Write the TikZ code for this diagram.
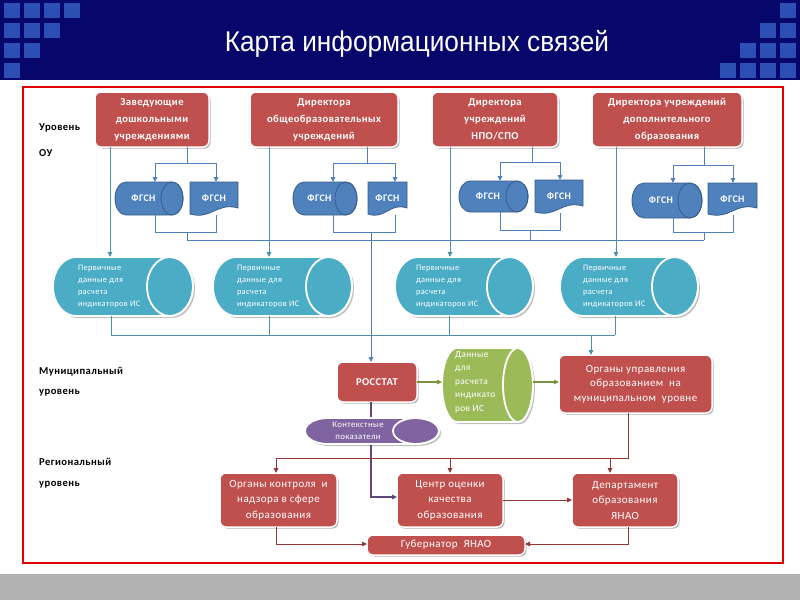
\documentclass[tikz,border=0pt]{standalone}
\usepackage{fontspec}
\setmainfont{Carlito}
\newfontfamily\cf[LetterSpace=4]{Carlito}
\newfontfamily\titlefont{Liberation Sans}
\usetikzlibrary{arrows.meta,shadows}
\definecolor{navy}{HTML}{07066B}
\definecolor{sqblue}{HTML}{2C4FB3}
\definecolor{boxred}{HTML}{C0504D}
\definecolor{fgblue}{HTML}{4F81BD}
\definecolor{fgdark}{HTML}{385D8A}
\definecolor{teal}{HTML}{4BACC6}
\definecolor{grn}{HTML}{9BBB59}
\definecolor{grnline}{HTML}{77933C}
\definecolor{purp}{HTML}{8064A2}
\definecolor{purpline}{HTML}{5F497A}
\definecolor{maroon}{HTML}{953735}
\definecolor{lnblue}{HTML}{4F81BD}
\definecolor{lnteal}{HTML}{4E90A8}
\definecolor{frame}{HTML}{E00000}
\definecolor{band}{HTML}{B2B2B2}
\newcommand\cyl[9]{%
  \pgfmathsetmacro\cyry{((#4)-(#2))/2}%
  \pgfmathsetmacro\cycy{((#4)+(#2))/2}%
  \fill[black,opacity=#9,shift={(2,2)}] (#1+#5,#2) -- (#3-#5,#2) arc[start angle=90,end angle=-90,x radius=#5pt,y radius=\cyry pt] -- (#1+#5,#4) arc[start angle=270,end angle=90,x radius=#5pt,y radius=\cyry pt] -- cycle;
  \filldraw[fill=#6,draw=#7,line width=#8] (#1+#5,#2) -- (#3-#5,#2) arc[start angle=90,end angle=-90,x radius=#5pt,y radius=\cyry pt] -- (#1+#5,#4) arc[start angle=270,end angle=90,x radius=#5pt,y radius=\cyry pt] -- cycle;
  \draw[draw=#7,line width=#8] (#3-#5,\cycy) ellipse[x radius=#5pt,y radius=\cyry pt];
}
\newcommand\docsh[4]{%
  \filldraw[fill=fgblue,draw=fgdark,line width=0.8pt] (#1,#2) -- (#3,#2) -- (#3,#4-7) .. controls ({#3-0.45*(#3-#1)},#4-13) and ({#1+0.45*(#3-#1)},#4+5) .. (#1,#4-1) -- cycle;
}
\begin{document}
\begin{tikzpicture}[x=1pt,y=-1pt,
  redbox/.style={draw=white,line width=1.5pt,fill=boxred,rounded corners=6pt,text=white,align=center,inner sep=0pt,outer sep=0pt,
    drop shadow={shadow xshift=1.5pt,shadow yshift=-1.5pt,fill=black,opacity=0.3}},
  topfont/.style={font=\cf\bfseries\fontsize{10.6}{17}\selectfont},
  botfont/.style={font=\cf\fontsize{11}{15.5}\selectfont},
  shapebox/.style={inner sep=0pt,outer sep=0pt,draw=none},
  fgtext/.style={shapebox,text=white,font=\cf\bfseries\fontsize{10}{11}\selectfont},
  smalltext/.style={inner sep=0pt,outer sep=0pt,text=white,align=left,font=\cf\fontsize{8.4}{12}\selectfont},
  lvl/.style={anchor=west,inner sep=0pt,font=\cf\bfseries\fontsize{10.6}{12}\selectfont},
  arr/.style={-{Triangle[length=5pt,width=4.5pt]}},
  bl/.style={draw=lnblue,line width=0.9pt},
  tl/.style={draw=lnteal,line width=0.9pt},
  gl/.style={draw=grnline,line width=1.2pt},
  ml/.style={draw=maroon,line width=1pt},
  pl/.style={draw=purpline,line width=1.6pt}]
\useasboundingbox (0,0) rectangle (800,600);
\fill[white] (0,0) rectangle (800,600);
% header
\fill[navy] (0,0) rectangle (800,80);
\foreach \i in {0,...,3}{
  \pgfmathtruncatemacro\n{3-\i}
  \foreach \j in {0,...,\n}{\fill[sqblue] (4+20*\j,3+20*\i) rectangle ++(16,15);}
  \foreach \j in {\n,...,3}{\fill[sqblue] (720+20*\j,3+20*\i) rectangle ++(16,15);}
}
\node[text=white,inner sep=0pt,font=\titlefont\fontsize{28.5}{30}\selectfont] (title) at (417,44) {\scalebox{0.92}[1]{Карта информационных связей}};
\fill[band] (0,574) rectangle (800,600);
\draw[frame,line width=2.5pt] (23,87) rectangle (783,563);
% level labels
\node[lvl] (l1a) at (39,128) {Уровень};
\node[lvl] (l1b) at (39,153) {ОУ};
\node[lvl] (l2a) at (39,372) {Муниципальный};
\node[lvl] (l2b) at (39,393) {уровень};
\node[lvl] (l3a) at (39,462) {Региональный};
\node[lvl] (l3b) at (39,485) {уровень};
% top boxes
\node[redbox,topfont,minimum width=114pt,minimum height=55pt] (b1) at (152,119.5) {Заведующие\\дошкольными\\учреждениями};
\node[redbox,topfont,minimum width=148pt,minimum height=55pt] (b2) at (324,119.5) {Директора\\общеобразовательных\\учреждений};
\node[redbox,topfont,minimum width=126pt,minimum height=55pt] (b3) at (495,119.5) {Директора\\учреждений\\НПО/СПО};
\node[redbox,topfont,minimum width=150pt,minimum height=55pt] (b4) at (667,119.5) {Директора учреждений\\дополнительного\\образования};
% FGSN shapes
\cyl{115}{182}{183}{215}{11}{fgblue}{fgdark}{0.8pt}{0}
\docsh{190}{182}{238}{215}
\cyl{293}{182}{357}{215}{11}{fgblue}{fgdark}{0.8pt}{0}
\docsh{368}{182}{407}{215}
\cyl{459}{181}{528}{212}{11}{fgblue}{fgdark}{0.8pt}{0}
\docsh{535}{180}{583}{213}
\cyl{632}{183}{702}{218}{12}{fgblue}{fgdark}{0.8pt}{0}
\docsh{708}{183}{757}{215}
\node[fgtext,minimum width=57pt,minimum height=33pt] (c1) at (143.5,198.5) {ФГСН};
\node[fgtext,minimum width=48pt,minimum height=33pt] (d1) at (214,198.5) {ФГСН};
\node[fgtext,minimum width=53pt,minimum height=33pt] (c2) at (319.5,198.5) {ФГСН};
\node[fgtext,minimum width=39pt,minimum height=33pt] (d2) at (387.5,198.5) {ФГСН};
\node[fgtext,minimum width=58pt,minimum height=31pt] (c3) at (488,196.5) {ФГСН};
\node[fgtext,minimum width=48pt,minimum height=33pt] (d3) at (559,196.5) {ФГСН};
\node[fgtext,minimum width=58pt,minimum height=35pt] (c4) at (661,200.5) {ФГСН};
\node[fgtext,minimum width=49pt,minimum height=32pt] (d4) at (732.5,199) {ФГСН};
% FGSN connectors
\draw[bl] (b1.south -| 187,0) -- (187,163) (155,163) -- (216,163);
\draw[bl,arr] (155,163) -- (c1.north -| 155,0);
\draw[bl,arr] (216,163) -- (d1.north -| 216,0);
\draw[bl] (b2.south -| 367,0) -- (367,163) (333,163) -- (395,163);
\draw[bl,arr] (333,163) -- (c2.north -| 333,0);
\draw[bl,arr] (395,163) -- (d2.north -| 395,0);
\draw[bl] (b3.south -| 532,0) -- (532,162) (500,162) -- (560,162);
\draw[bl,arr] (500,162) -- (c3.north -| 500,0);
\draw[bl,arr] (560,162) -- (d3.north -| 560,0);
\draw[bl] (b4.south -| 704,0) -- (704,165) (673,165) -- (733,165);
\draw[bl,arr] (673,165) -- (c4.north -| 673,0);
\draw[bl,arr] (733,165) -- (d4.north -| 733,0);
\draw[bl] (c1.south -| 155,0) -- (155,232) -- (216,232) -- (d1.south -| 216,0) (187,232) -- (187,240);
\draw[bl] (c2.south -| 333,0) -- (333,232) -- (395,232) -- (d2.south -| 395,0);
\draw[bl] (c3.south -| 500,0) -- (500,230) -- (560,230) -- (d3.south -| 560,0) (530,230) -- (530,240);
\draw[bl] (c4.south -| 673,0) -- (673,232) -- (733,232) -- (d4.south -| 733,0) (704,232) -- (704,240);
\draw[bl] (187,240) -- (704,240);
% teal cylinders
\cyl{53}{257}{193}{316}{23}{teal}{white}{1.8pt}{0.25}
\cyl{213}{257}{352}{316}{23}{teal}{white}{1.8pt}{0.25}
\cyl{395}{257}{533}{316}{23}{teal}{white}{1.8pt}{0.25}
\cyl{560}{257}{698}{316}{23}{teal}{white}{1.8pt}{0.25}
\node[shapebox,minimum width=140pt,minimum height=59pt] (t1) at (123,286.5) {};
\node[shapebox,minimum width=139pt,minimum height=59pt] (t2) at (282.5,286.5) {};
\node[shapebox,minimum width=138pt,minimum height=59pt] (t3) at (464,286.5) {};
\node[shapebox,minimum width=138pt,minimum height=59pt] (t4) at (629,286.5) {};
\node[smalltext,anchor=west] (t1txt) at (78,286) {Первичные\\данные для\\расчета\\индикаторов ИС};
\node[smalltext,anchor=west] (t2txt) at (237,286) {Первичные\\данные для\\расчета\\индикаторов ИС};
\node[smalltext,anchor=west] (t3txt) at (416,286) {Первичные\\данные для\\расчета\\индикаторов ИС};
\node[smalltext,anchor=west] (t4txt) at (583,286) {Первичные\\данные для\\расчета\\индикаторов ИС};
% teal verticals
\draw[tl,arr] (b1.south -| 110,0) -- (t1.north -| 110,0);
\draw[tl,arr] (b2.south -| 269,0) -- (t2.north -| 269,0);
\draw[tl,arr] (b3.south -| 450,0) -- (t3.north -| 450,0);
\draw[tl,arr] (b4.south -| 616,0) -- (t4.north -| 616,0);
\draw[tl] (t1.south -| 111,0) -- (111,335) -- (615,335);
\draw[tl] (t2.south -| 269,0) -- (269,335);
\draw[tl] (t3.south -| 449,0) -- (449,335);
\draw[tl] (t4.south -| 615,0) -- (615,335);
% municipal level
\node[redbox,topfont,minimum width=80pt,minimum height=40pt] (ros) at (377,382) {РОССТАТ};
\node[redbox,font=\cf\fontsize{11}{14.5}\selectfont,minimum width=153pt,minimum height=58pt] (org) at (635.5,384) {Органы управления\\образованием\ \ на\\муниципальном\ \ уровне};
\draw[tl,arr] (591,335) -- (org.north -| 591,0);
\draw[bl,arr] (371,232) -- (ros.north -| 371,0);
% purple line (behind)
\node[redbox,botfont,minimum width=106pt,minimum height=54pt] (cen) at (450,500) {Центр оценки\\качества\\образования};
\draw[pl,arr] (ros.south -| 371,0) -- (371,497) -- (cen.west |- 0,497);
\cyl{442}{348}{533}{422}{15}{grn}{white}{1.8pt}{0.25}
\node[shapebox,minimum width=91pt,minimum height=74pt] (gcyl) at (487.5,385) {};
\node[smalltext,anchor=west,font=\cf\fontsize{9.4}{13.5}\selectfont] (gtxt) at (455,382) {Данные\\для\\расчета\\индикато\\ров ИС};
\draw[gl,arr] (ros.east) -- (ros.east -| gcyl.west);
\draw[gl,arr] (gcyl.east |- 0,382) -- (org.west |- 0,382);
\cyl{305}{418}{439}{444}{23}{purp}{white}{1.8pt}{0.25}
\node[shapebox,minimum width=134pt,minimum height=26pt] (pcyl) at (372,431) {};
\node[smalltext,align=center,font=\cf\fontsize{8.8}{12}\selectfont] (ptxt) at (358,431) {Контекстные\\показатели};
% regional level
\node[redbox,botfont,minimum width=117pt,minimum height=54pt] (kon) at (278.5,500) {Органы контроля\ \ и\\надзора в сфере\\образования};
\node[redbox,botfont,minimum width=106pt,minimum height=54pt] (dep) at (625,500) {Департамент\\образования\\ЯНАО};
\node[redbox,botfont,minimum width=158pt,minimum height=20pt] (gub) at (446,545) {Губернатор\ \ ЯНАО};
\draw[ml] (org.south -| 628,0) -- (628,458) -- (276,458);
\draw[ml,arr] (276,458) -- (kon.north -| 276,0);
\draw[ml,arr] (450,458) -- (cen.north);
\draw[ml,arr] (610,458) -- (dep.north -| 610,0);
\draw[ml,arr] (cen.east) -- (dep.west);
\draw[ml,arr] (kon.south -| 276,0) -- (276,544) -- (gub.west |- 0,544);
\draw[ml,arr] (dep.south -| 628,0) -- (628,544) -- (gub.east |- 0,544);
\end{tikzpicture}
\end{document}
